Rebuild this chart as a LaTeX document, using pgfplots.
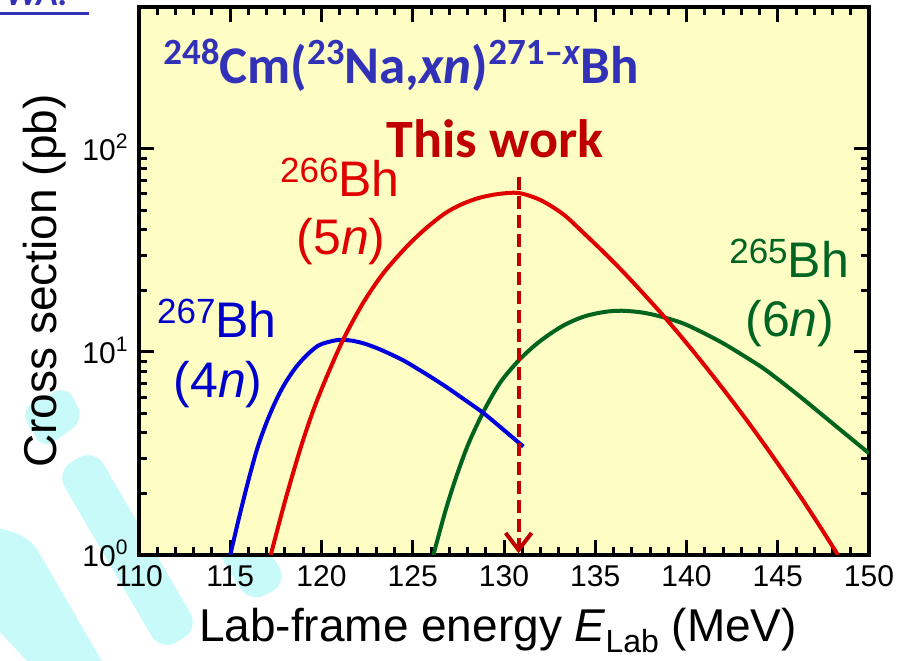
\documentclass[border=0pt]{standalone}
\usepackage{fontspec}
\setmainfont{Liberation Sans}
\newfontfamily\calibri{Carlito}
\usepackage{pgfplots}
\pgfplotsset{compat=1.18}
\usetikzlibrary{arrows.meta}
\definecolor{bgy}{RGB}{253,253,196}
\definecolor{wm}{RGB}{200,250,250}
\definecolor{tblue}{RGB}{50,50,185}
\definecolor{dred}{RGB}{192,0,0}
\definecolor{cred}{RGB}{225,0,0}
\definecolor{cblue}{RGB}{0,0,220}
\definecolor{cgreen}{RGB}{0,100,30}
\definecolor{lblue}{RGB}{0,0,205}
\definecolor{lgreen}{RGB}{0,100,35}
\newcommand\tpow[1]{{\fontsize{30}{30}\selectfont 10}\raisebox{12pt}{\fontsize{21}{21}\selectfont #1}}
\newcommand\isup[1]{\raisebox{14pt}{\fontsize{35}{35}\selectfont #1}}
\newcommand\tsup[1]{\raisebox{19pt}{\fontsize{37}{37}\selectfont #1}}
\begin{document}
\begin{tikzpicture}[x=1pt,y=1pt]
\path[use as bounding box] (-139,-106) rectangle (769,555);
\begin{scope}[shift={(-139,555)}, yscale=-1]
  \fill[wm, rounded corners=18pt] (94.4,448.5) -- (199.4,628.5) -- (160.6,651.5) -- (55.6,471.5) -- cycle;
  \fill[wm, rounded corners=14pt] (20,410) -- (67,385) -- (84,420) -- (43,450) -- cycle;
  \fill[wm, rounded corners=16pt] (-30,520) -- (30,537) -- (110,675) -- (40,675) -- (-30,600) -- cycle;
  \fill[wm, rounded corners=18pt] (219.4,468.5) -- (288.4,582.5) -- (249.6,603.5) -- (180.6,491.5) -- cycle;
  \draw[tblue, line width=3pt] (-5,13.5) -- (89,13.5);
  \node[anchor=base east, inner sep=0, text=tblue, font=\calibri\bfseries\itshape\fontsize{36}{36}\selectfont] at (68,6) {WA.};
\end{scope}
\begin{axis}[
  scale only axis, width=730pt, height=548pt,
  xmin=110, xmax=150, ymin=1, ymax=500, ymode=log,
  xtick={110,115,120,125,130,135,140,145,150},
  xticklabels={110,115,120,125,130,135,140,145,150},
  minor x tick num=4,
  ytick={1,10,100}, yticklabels={\tpow{0},\tpow{1},\tpow{2}},
  tick align=inside, tick pos=both,
  major tick length=15pt, minor tick length=8pt,
  tick style={line width=3pt, black},
  axis line style={line width=4pt},
  axis background/.style={fill=bgy},
  xticklabel style={font=\fontsize{30}{30}\selectfont, yshift=-7pt},
  yticklabel style={font=\fontsize{30}{30}\selectfont, xshift=-8pt, yshift=2pt},
  xlabel={Lab-frame energy {\itshape E}\raisebox{-0.25em}{\fontsize{32}{32}\selectfont Lab} (MeV)},
  xlabel style={font=\fontsize{46}{46}\selectfont, at={([xshift=-6pt,yshift=-86pt]axis description cs:0.5,0)}, anchor=base},
  ylabel={Cross section (pb)},
  ylabel style={font=\fontsize{46}{46}\selectfont, at={([xshift=-94pt]axis description cs:0,0.5)}, anchor=center},
]
\addplot[cgreen, line width=4pt, smooth, line join=round] coordinates {
(126.13,1.00)(126.8,1.66)(127.4,2.45)(128.04,3.51)(128.87,5.07)(129.8,7.08)(130.88,9.23)
(132.0,11.35)(133.25,13.49)(134.4,14.96)(135.5,15.74)(136.45,15.96)(137.6,15.63)(138.7,14.86)
(139.8,13.84)(140.9,12.45)(142.0,11.04)(143.1,9.62)(144.2,8.32)(145.3,7.01)(146.4,5.85)
(147.5,4.85)(148.6,4.02)(150.0,3.17)};
\addplot[cblue, line width=4pt, smooth, line join=round] coordinates {
(115.0,1.00)(115.5,1.55)(116.0,2.34)(116.5,3.39)(117.0,4.52)(117.5,5.75)(118.0,7.00)
(118.6,8.41)(119.2,9.66)(119.8,10.72)(120.3,11.15)(121.0,11.48)(121.7,11.35)(122.4,10.96)
(123.2,10.30)(124.0,9.55)(124.6,8.97)(125.7,7.82)(126.8,6.76)(127.9,5.77)(128.9,4.98)
(130.0,4.12)(131.06,3.42)};
\addplot[cred, line width=4pt, smooth, line join=round] coordinates {
(117.22,1.00)(118.0,1.84)(118.82,3.29)(119.5,5.01)(120.2,7.24)(121.18,11.46)(122.27,17.38)
(123.39,24.43)(124.67,33.04)(125.7,40.46)(126.77,48.19)(127.7,53.46)(128.68,57.54)(129.7,59.98)
(130.8,60.67)(132.0,55.98)(133.25,47.64)(134.4,38.28)(135.5,30.76)(136.5,24.95)(137.5,20.0)
(138.5,15.92)(139.5,12.53)(140.5,9.75)(141.5,7.52)(142.5,5.75)(143.5,4.36)(144.5,3.27)
(145.5,2.43)(146.5,1.79)(147.5,1.30)(148.3,1.00)};
\addplot[dred, line width=4pt, dash pattern=on 13pt off 6pt, -{Straight Barb[length=17pt,width=26pt]}] coordinates {(130.8,72.8)(130.8,1.02)};
\node[anchor=base west, inner sep=0, text=tblue, font=\calibri\bfseries\fontsize{53}{53}\selectfont] at (axis cs:111.32,211) {\tsup{248}Cm(\tsup{23}Na,\textit{xn})\tsup{271–\textit{x}}Bh};
\node[anchor=base, inner sep=0, text=dred, font=\calibri\bfseries\fontsize{54}{54}\selectfont] at (axis cs:129.51,90.3) {This work};
\node[anchor=base, inner sep=0, text=cred, font=\fontsize{50}{50}\selectfont] at (axis cs:121.01,58.0) {\isup{266}Bh};
\node[anchor=base, inner sep=0, text=cred, font=\fontsize{50}{50}\selectfont] at (axis cs:121.07,30.1) {(5\textit{n})};
\node[anchor=base, inner sep=0, text=lblue, font=\fontsize{50}{50}\selectfont] at (axis cs:114.27,11.72) {\isup{267}Bh};
\node[anchor=base, inner sep=0, text=lblue, font=\fontsize{50}{50}\selectfont] at (axis cs:114.33,6.0) {(4\textit{n})};
\node[anchor=base, inner sep=0, text=lgreen, font=\fontsize{50}{50}\selectfont] at (axis cs:145.62,23.15) {\isup{265}Bh};
\node[anchor=base, inner sep=0, text=lgreen, font=\fontsize{50}{50}\selectfont] at (axis cs:145.67,11.86) {(6\textit{n})};
\end{axis}
\end{tikzpicture}
\end{document}
